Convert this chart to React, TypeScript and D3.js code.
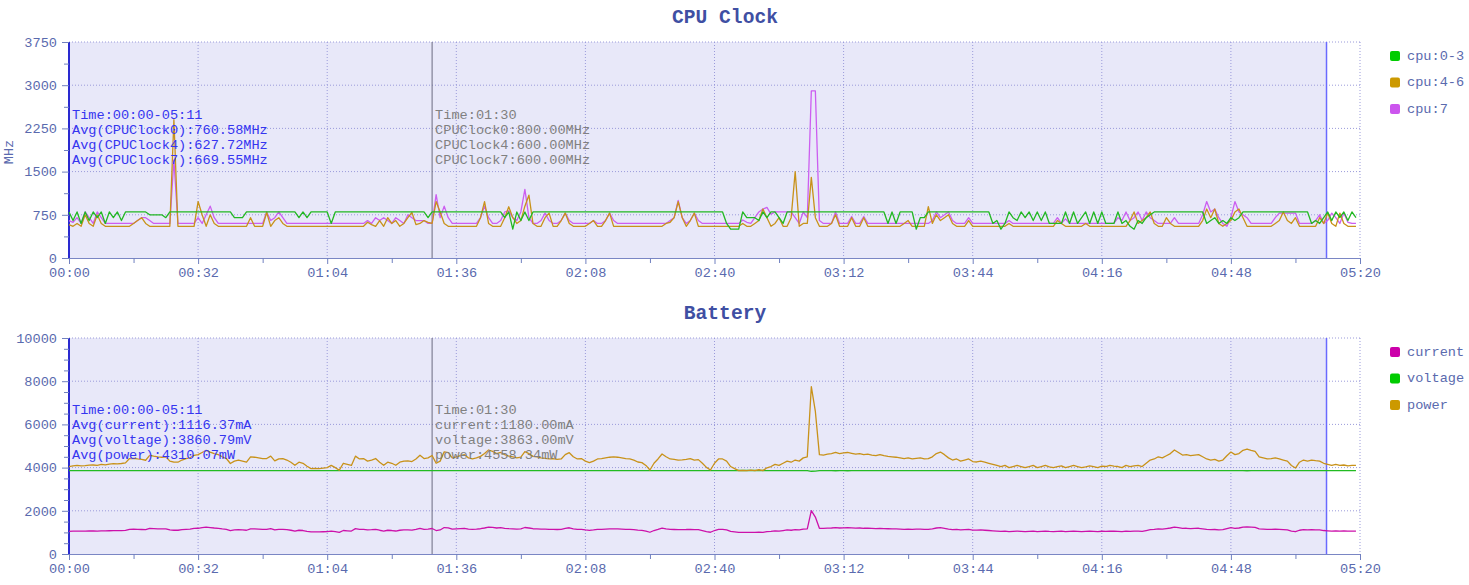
import React, { useEffect, useRef } from 'react';
import * as d3 from 'd3';

const FONT = "'Liberation Mono', 'DejaVu Sans Mono', monospace";

// one sample per second, t = 0 .. 319 s
const cpu0: number[] = [
  800, 650, 800, 600, 800, 650, 800, 700, 800, 600, 800, 700, 800, 650, 800, 800, 800, 800, 800, 800,
  750, 750, 750, 750, 700, 800, 800, 800, 800, 800, 800, 800, 800, 800, 800, 800, 800, 800, 800, 800,
  800, 700, 700, 700, 800, 800, 800, 800, 800, 800, 800, 800, 800, 800, 800, 800, 800, 700, 800, 700,
  800, 800, 800, 800, 800, 600, 800, 800, 800, 800, 800, 800, 800, 800, 800, 800, 800, 800, 800, 800,
  800, 800, 800, 800, 800, 800, 800, 800, 800, 700, 800, 800, 800, 800, 800, 800, 800, 800, 800, 800,
  800, 800, 800, 800, 800, 800, 800, 800, 700, 800, 500, 800, 650, 800, 650, 800, 800, 800, 800, 800,
  800, 800, 800, 800, 800, 800, 800, 800, 800, 800, 800, 800, 800, 800, 800, 800, 800, 800, 800, 800,
  800, 800, 800, 800, 800, 800, 800, 800, 800, 800, 800, 800, 800, 800, 800, 800, 800, 800, 800, 800,
  800, 800, 800, 600, 500, 500, 500, 800, 700, 700, 700, 650, 800, 700, 800, 800, 700, 600, 800, 800,
  800, 800, 800, 800, 800, 800, 800, 800, 800, 800, 800, 800, 800, 800, 800, 800, 800, 800, 800, 800,
  800, 800, 800, 600, 800, 600, 800, 800, 800, 800, 500, 700, 700, 800, 800, 800, 800, 800, 800, 800,
  800, 800, 800, 800, 800, 800, 800, 800, 800, 600, 650, 500, 600, 800, 700, 650, 800, 700, 800, 650,
  800, 650, 800, 600, 600, 600, 600, 800, 600, 800, 600, 700, 800, 600, 800, 600, 800, 600, 600, 600,
  800, 600, 650, 550, 500, 650, 600, 700, 750, 800, 800, 800, 800, 800, 800, 800, 800, 800, 800, 800,
  800, 800, 600, 650, 700, 600, 650, 600, 700, 650, 700, 800, 800, 800, 800, 800, 800, 800, 800, 800,
  800, 800, 800, 800, 800, 800, 800, 800, 600, 650, 600, 700, 800, 650, 800, 700, 800, 650, 800, 700,
];

const cpu4: number[] = [
  580, 550, 600, 550, 750, 600, 550, 750, 600, 550, 550, 550, 550, 550, 550, 550, 600, 650, 700, 600,
  550, 550, 550, 550, 550, 550, 2400, 550, 550, 550, 550, 550, 980, 750, 550, 750, 600, 550, 550, 550,
  550, 550, 550, 550, 550, 700, 550, 550, 550, 790, 550, 650, 700, 600, 550, 550, 550, 550, 550, 550,
  550, 550, 550, 550, 550, 550, 550, 550, 550, 550, 550, 550, 550, 550, 620, 580, 550, 650, 550, 700,
  600, 650, 550, 600, 700, 790, 580, 600, 650, 620, 600, 980, 800, 600, 550, 550, 550, 550, 550, 550,
  550, 550, 700, 980, 600, 550, 550, 550, 700, 890, 700, 600, 650, 900, 1090, 600, 550, 550, 700, 780,
  550, 550, 650, 780, 600, 550, 550, 550, 550, 600, 650, 550, 550, 650, 780, 550, 550, 550, 550, 550,
  550, 550, 550, 550, 550, 550, 550, 550, 600, 620, 700, 980, 700, 550, 650, 780, 550, 550, 550, 550,
  550, 550, 550, 550, 550, 550, 550, 600, 550, 550, 600, 650, 850, 700, 550, 600, 700, 550, 550, 700,
  1500, 550, 600, 600, 1400, 700, 550, 550, 550, 600, 750, 550, 550, 550, 700, 550, 550, 700, 550, 550,
  550, 550, 550, 550, 550, 550, 550, 600, 650, 550, 550, 550, 550, 890, 600, 750, 650, 700, 750, 600,
  550, 550, 550, 650, 550, 550, 550, 550, 550, 550, 550, 550, 550, 600, 550, 550, 550, 550, 550, 550,
  550, 550, 550, 550, 550, 650, 600, 550, 550, 550, 550, 550, 600, 550, 550, 550, 550, 550, 550, 550,
  550, 550, 550, 650, 800, 600, 650, 700, 800, 600, 550, 550, 700, 600, 550, 550, 550, 550, 550, 550,
  550, 650, 850, 700, 850, 600, 550, 600, 650, 800, 850, 700, 550, 550, 550, 550, 550, 550, 550, 600,
  650, 800, 650, 600, 700, 550, 550, 550, 550, 550, 700, 600, 780, 600, 550, 780, 600, 550, 550, 550,
];

const cpu7: number[] = [
  650, 620, 700, 600, 800, 700, 600, 800, 700, 600, 600, 600, 600, 600, 600, 600, 600, 650, 700, 700,
  650, 600, 600, 600, 600, 600, 1700, 600, 600, 600, 600, 600, 700, 600, 750, 900, 700, 600, 600, 600,
  600, 600, 600, 600, 600, 600, 600, 600, 600, 800, 650, 700, 800, 700, 600, 600, 600, 600, 600, 600,
  600, 600, 600, 600, 600, 600, 600, 600, 600, 600, 600, 600, 600, 600, 650, 600, 700, 650, 700, 650,
  600, 700, 650, 600, 750, 700, 650, 650, 650, 600, 600, 1100, 700, 900, 700, 600, 600, 600, 600, 600,
  600, 600, 700, 900, 700, 600, 600, 650, 800, 820, 700, 650, 800, 1190, 700, 600, 600, 650, 780, 650,
  600, 600, 650, 780, 650, 600, 600, 600, 600, 600, 650, 600, 600, 650, 780, 650, 600, 600, 600, 600,
  600, 600, 600, 600, 600, 600, 600, 600, 600, 650, 700, 1000, 700, 600, 650, 780, 650, 600, 600, 600,
  600, 600, 600, 600, 600, 600, 600, 660, 620, 600, 700, 800, 850, 880, 760, 800, 800, 800, 800, 800,
  700, 600, 800, 700, 2900, 2900, 650, 600, 600, 600, 800, 600, 600, 600, 720, 600, 600, 720, 600, 600,
  600, 600, 600, 600, 600, 600, 600, 600, 600, 600, 600, 600, 600, 600, 650, 800, 700, 750, 800, 650,
  600, 600, 600, 700, 600, 600, 600, 600, 600, 600, 600, 600, 600, 650, 600, 600, 600, 600, 600, 600,
  600, 600, 600, 600, 600, 700, 600, 680, 600, 600, 600, 600, 600, 600, 600, 600, 600, 600, 600, 600,
  700, 650, 800, 650, 700, 800, 650, 800, 700, 650, 600, 600, 600, 600, 700, 600, 600, 600, 600, 600,
  600, 750, 980, 800, 850, 700, 600, 550, 700, 980, 800, 750, 700, 600, 600, 600, 600, 600, 600, 700,
  780, 780, 780, 780, 780, 600, 600, 600, 600, 650, 750, 600, 650, 780, 700, 600, 780, 620, 600, 600,
];

const current: number[] = [
  1049, 1056, 1062, 1056, 1059, 1064, 1067, 1062, 1075, 1069, 1077, 1082, 1080, 1085, 1093, 1144, 1147, 1139, 1134, 1124,
  1183, 1173, 1165, 1160, 1165, 1113, 1100, 1100, 1126, 1144, 1152, 1183, 1191, 1217, 1243, 1222, 1204, 1191, 1165, 1144,
  1085, 1113, 1126, 1113, 1100, 1165, 1160, 1152, 1144, 1144, 1173, 1116, 1139, 1144, 1126, 1100, 1064, 1100, 1087, 1051,
  1023, 1025, 1023, 1031, 1036, 1062, 1036, 1005, 1087, 1075, 1062, 1173, 1139, 1144, 1113, 1126, 1144, 1100, 1064, 1100,
  1087, 1064, 1100, 1113, 1116, 1108, 1139, 1183, 1144, 1152, 1180, 1087, 1113, 1225, 1214, 1152, 1165, 1178, 1191, 1152,
  1139, 1152, 1170, 1204, 1247, 1230, 1204, 1217, 1191, 1173, 1165, 1152, 1160, 1227, 1204, 1170, 1165, 1152, 1147, 1139,
  1144, 1134, 1139, 1191, 1215, 1165, 1139, 1144, 1113, 1095, 1113, 1139, 1144, 1152, 1160, 1165, 1160, 1152, 1144, 1139,
  1126, 1103, 1095, 1062, 1007, 1087, 1139, 1199, 1165, 1139, 1134, 1126, 1129, 1134, 1144, 1126, 1132, 1087, 1039, 1007,
  1087, 1139, 1139, 1113, 1049, 1023, 999, 1002, 999, 1005, 999, 1010, 999, 1033, 1049, 1075, 1062, 1087, 1113, 1100,
  1126, 1113, 1152, 1165, 2007, 1709, 1191, 1186, 1196, 1204, 1217, 1204, 1212, 1217, 1207, 1196, 1204, 1191, 1196, 1186,
  1178, 1191, 1178, 1170, 1165, 1160, 1152, 1144, 1152, 1139, 1147, 1152, 1139, 1144, 1165, 1204, 1222, 1191, 1152, 1126,
  1139, 1113, 1126, 1139, 1108, 1103, 1113, 1100, 1087, 1075, 1062, 1049, 1062, 1036, 1049, 1062, 1049, 1036, 1049, 1062,
  1036, 1049, 1062, 1044, 1036, 1049, 1056, 1036, 1049, 1062, 1049, 1036, 1044, 1056, 1049, 1036, 1054, 1049, 1062, 1054,
  1049, 1036, 1062, 1049, 1056, 1062, 1049, 1087, 1126, 1139, 1165, 1152, 1178, 1204, 1247, 1217, 1186, 1191, 1178, 1186,
  1191, 1165, 1139, 1126, 1134, 1113, 1126, 1178, 1222, 1191, 1204, 1243, 1258, 1243, 1230, 1165, 1152, 1139, 1144, 1152,
  1139, 1126, 1113, 1062, 1031, 1100, 1126, 1113, 1126, 1119, 1113, 1087, 1075, 1062, 1075, 1062, 1067, 1056, 1062, 1062,
];

const voltage: number[] = [
  3862, 3862, 3861, 3861, 3860, 3860, 3861, 3860, 3860, 3859, 3860, 3860, 3861, 3860, 3859, 3858, 3858, 3859, 3859, 3860,
  3858, 3858, 3859, 3859, 3858, 3860, 3861, 3861, 3860, 3859, 3859, 3858, 3858, 3857, 3856, 3857, 3858, 3858, 3859, 3859,
  3861, 3860, 3859, 3860, 3860, 3859, 3859, 3859, 3859, 3859, 3858, 3860, 3859, 3859, 3860, 3860, 3862, 3860, 3861, 3862,
  3863, 3863, 3863, 3863, 3862, 3862, 3862, 3864, 3861, 3862, 3862, 3858, 3859, 3859, 3860, 3860, 3859, 3860, 3862, 3860,
  3861, 3862, 3860, 3860, 3860, 3860, 3859, 3858, 3859, 3859, 3863, 3862, 3861, 3857, 3858, 3859, 3859, 3858, 3858, 3859,
  3859, 3859, 3858, 3857, 3856, 3856, 3857, 3857, 3858, 3858, 3858, 3859, 3859, 3856, 3857, 3858, 3858, 3859, 3859, 3859,
  3859, 3859, 3859, 3858, 3857, 3858, 3859, 3859, 3860, 3861, 3860, 3859, 3859, 3859, 3858, 3858, 3858, 3859, 3859, 3859,
  3860, 3861, 3861, 3862, 3864, 3861, 3859, 3857, 3858, 3859, 3859, 3860, 3860, 3860, 3859, 3860, 3860, 3861, 3863, 3864,
  3861, 3859, 3859, 3860, 3863, 3864, 3865, 3865, 3865, 3865, 3865, 3864, 3865, 3864, 3863, 3863, 3862, 3862, 3861, 3861,
  3860, 3860, 3859, 3858, 3830, 3840, 3857, 3857, 3856, 3856, 3855, 3856, 3856, 3855, 3856, 3856, 3856, 3857, 3857, 3857,
  3857, 3857, 3857, 3858, 3858, 3858, 3859, 3859, 3859, 3859, 3859, 3859, 3860, 3859, 3858, 3857, 3856, 3857, 3859, 3860,
  3859, 3860, 3860, 3859, 3860, 3861, 3860, 3861, 3861, 3862, 3862, 3863, 3862, 3863, 3863, 3862, 3863, 3863, 3863, 3862,
  3863, 3863, 3862, 3863, 3863, 3863, 3862, 3863, 3863, 3862, 3863, 3863, 3863, 3862, 3863, 3863, 3862, 3863, 3862, 3863,
  3863, 3863, 3862, 3863, 3862, 3862, 3863, 3861, 3860, 3859, 3858, 3859, 3858, 3857, 3856, 3857, 3858, 3858, 3858, 3858,
  3858, 3859, 3860, 3860, 3860, 3861, 3860, 3858, 3857, 3858, 3857, 3856, 3855, 3856, 3857, 3858, 3859, 3859, 3859, 3859,
  3859, 3860, 3860, 3862, 3863, 3861, 3860, 3860, 3860, 3860, 3860, 3861, 3862, 3862, 3862, 3862, 3862, 3862, 3862, 3862,
];

const power: number[] = [
  4050, 4080, 4100, 4080, 4090, 4110, 4120, 4100, 4150, 4130, 4160, 4180, 4170, 4190, 4220, 4420, 4430, 4400, 4380, 4340,
  4570, 4530, 4500, 4480, 4500, 4300, 4250, 4250, 4350, 4420, 4450, 4570, 4600, 4700, 4800, 4720, 4650, 4600, 4500, 4420,
  4190, 4300, 4350, 4300, 4250, 4500, 4480, 4450, 4420, 4420, 4530, 4310, 4400, 4420, 4350, 4250, 4110, 4250, 4200, 4060,
  3950, 3960, 3950, 3980, 4000, 4100, 4000, 3880, 4200, 4150, 4100, 4530, 4400, 4420, 4300, 4350, 4420, 4250, 4110, 4250,
  4200, 4110, 4250, 4300, 4310, 4280, 4400, 4570, 4420, 4450, 4558, 4200, 4300, 4730, 4690, 4450, 4500, 4550, 4600, 4450,
  4400, 4450, 4520, 4650, 4815, 4750, 4650, 4700, 4600, 4530, 4500, 4450, 4480, 4738, 4650, 4520, 4500, 4450, 4430, 4400,
  4420, 4380, 4400, 4600, 4691, 4500, 4400, 4420, 4300, 4228, 4300, 4400, 4420, 4450, 4480, 4500, 4480, 4450, 4420, 4400,
  4350, 4260, 4230, 4100, 3889, 4200, 4400, 4630, 4500, 4400, 4380, 4350, 4360, 4380, 4420, 4350, 4370, 4200, 4012, 3889,
  4200, 4400, 4400, 4300, 4050, 3950, 3860, 3870, 3860, 3880, 3860, 3900, 3860, 3990, 4050, 4150, 4100, 4200, 4300, 4250,
  4350, 4300, 4450, 4500, 7750, 6600, 4600, 4580, 4620, 4650, 4700, 4650, 4680, 4700, 4660, 4620, 4650, 4600, 4620, 4580,
  4550, 4600, 4550, 4520, 4500, 4480, 4450, 4420, 4450, 4400, 4430, 4450, 4400, 4420, 4500, 4650, 4720, 4600, 4450, 4350,
  4400, 4300, 4350, 4400, 4280, 4260, 4300, 4250, 4200, 4150, 4100, 4050, 4100, 4000, 4050, 4100, 4050, 4000, 4050, 4100,
  4000, 4050, 4100, 4030, 4000, 4050, 4080, 4000, 4050, 4100, 4050, 4000, 4030, 4080, 4050, 4000, 4070, 4050, 4100, 4070,
  4050, 4000, 4100, 4050, 4080, 4100, 4050, 4200, 4350, 4400, 4500, 4450, 4550, 4650, 4815, 4700, 4580, 4600, 4550, 4580,
  4600, 4500, 4400, 4350, 4380, 4300, 4350, 4550, 4720, 4600, 4650, 4800, 4860, 4800, 4750, 4500, 4450, 4400, 4420, 4450,
  4400, 4350, 4300, 4100, 3980, 4250, 4350, 4300, 4350, 4320, 4300, 4200, 4150, 4100, 4150, 4100, 4120, 4080, 4100, 4100,
];

const xTicks = [0, 32, 64, 96, 128, 160, 192, 224, 256, 288, 320];
const xMinor = [16, 48, 80, 112, 144, 176, 208, 240, 272, 304];
const cpuTicks = [0, 750, 1500, 2250, 3000, 3750];
const cpuMinor = [375, 1125, 1875, 2625, 3375];
const batTicks = [0, 2000, 4000, 6000, 8000, 10000];
const batMinor = [500, 1000, 1500, 2500, 3000, 3500, 4500, 5000, 5500, 6500, 7000, 7500, 8500, 9000, 9500];

const cpuAvgText = ['Time:00:00-05:11', 'Avg(CPUClock0):760.58MHz', 'Avg(CPUClock4):627.72MHz', 'Avg(CPUClock7):669.55MHz'];
const cpuHoverText = ['Time:01:30', 'CPUClock0:800.00MHz', 'CPUClock4:600.00MHz', 'CPUClock7:600.00MHz'];
const batAvgText = ['Time:00:00-05:11', 'Avg(current):1116.37mA', 'Avg(voltage):3860.79mV', 'Avg(power):4310.07mW'];
const batHoverText = ['Time:01:30', 'current:1180.00mA', 'voltage:3863.00mV', 'power:4558.34mW'];

const HOVER_T = 90;
const RANGE_END_T = 311.7;

const X0 = 69;
const X1 = 1360;
const x = d3.scaleLinear().domain([0, 320]).range([X0, X1]);

const pad = (n: number) => String(n).padStart(2, '0');
const fmtTime = (s: number) => `${pad(Math.floor(s / 60))}:${pad(s % 60)}`;

const TICK_COLOR = '#5a6aae';
const GRID = '#9a9ada';

interface Series {
  name: string;
  values: number[];
  color: string;
  legend: string;
}

interface PanelProps {
  title: string;
  titleY: number;
  top: number;
  bottom: number;
  yMax: number;
  ticks: number[];
  minor: number[];
  series: Series[];
  drawOrder: number[];
  avgText: string[];
  hoverText: string[];
  textY: number;
  legendY: number;
  yLabel?: string;
}

const Panel = (p: PanelProps) => {
  const gx = useRef<SVGGElement>(null);
  const gy = useRef<SVGGElement>(null);
  const y = d3.scaleLinear().domain([0, p.yMax]).range([p.bottom, p.top]);

  useEffect(() => {
    const ax = d3.select(gx.current!);
    ax.selectAll('*').remove();
    ax.append('g').call(d3.axisBottom(x).tickValues(xMinor).tickSize(5).tickSizeOuter(0).tickFormat(() => ''));
    ax.append('g').call(d3.axisBottom(x).tickValues(xTicks).tickSize(6).tickPadding(3).tickSizeOuter(0).tickFormat(d => fmtTime(+d)));

    const ay = d3.select(gy.current!);
    ay.selectAll('*').remove();
    ay.append('g').call(d3.axisLeft(y).tickValues(p.minor).tickSize(5).tickSizeOuter(0).tickFormat(() => ''));
    ay.append('g').call(d3.axisLeft(y).tickValues(p.ticks).tickSize(7).tickPadding(5).tickSizeOuter(0).tickFormat(d => String(d)));

    [ax, ay].forEach(a => {
      a.selectAll('.tick line').attr('stroke', '#7080c0');
      a.selectAll('.domain').attr('stroke', 'none');
      a.selectAll('text')
        .attr('font-family', FONT)
        .attr('font-size', 13.6)
        .attr('fill', TICK_COLOR);
    });
  }, []);

  const line = d3
    .line<number>()
    .x((_, i) => x(i))
    .y(d => y(d));

  return (
    <g>
      <text x={725} y={p.titleY} textAnchor="middle" dominantBaseline="central" fontFamily={FONT}
        fontSize={19.6} fontWeight="bold" fill="#3f4fa3">{p.title}</text>

      <rect x={x(0)} y={p.top} width={x(RANGE_END_T) - x(0)} height={p.bottom - p.top} fill="#e8e8f9" />

      {p.ticks.slice(1).map(t => (
        <line key={'h' + t} x1={X0} x2={X1} y1={y(t)} y2={y(t)} stroke={GRID} strokeDasharray="1,2" />
      ))}
      {xTicks.slice(1).map(t => (
        <line key={'v' + t} x1={x(t)} x2={x(t)} y1={p.top} y2={p.bottom} stroke={GRID} strokeDasharray="1,2" />
      ))}

      <line x1={X0} x2={X1} y1={p.bottom + 0.5} y2={p.bottom + 0.5} stroke="#7a86c4" />
      <line x1={X0} x2={X0} y1={p.top} y2={p.bottom} stroke="#2a2ad0" strokeWidth={2} />

      <line x1={x(HOVER_T)} x2={x(HOVER_T)} y1={p.top} y2={p.bottom} stroke="#6a6a80" />
      <line x1={x(RANGE_END_T)} x2={x(RANGE_END_T)} y1={p.top} y2={p.bottom} stroke="#6a6aff" strokeWidth={1.5} />

      {p.drawOrder.map(k => p.series[k]).map(s => (
        <path key={s.name} d={line(s.values) ?? ''} fill="none" stroke={s.color} strokeWidth={1.3}
          strokeLinejoin="round" />
      ))}

      {p.avgText.map((t, i) => (
        <text key={'a' + i} x={72} y={p.textY + i * 15.3} dominantBaseline="central" fontFamily={FONT}
          fontSize={13.6} fill="#3535f0">{t}</text>
      ))}
      {p.hoverText.map((t, i) => (
        <text key={'o' + i} x={x(HOVER_T) + 3} y={p.textY + i * 15.3} dominantBaseline="central" fontFamily={FONT}
          fontSize={13.6} fill="#808080">{t}</text>
      ))}

      {p.series.map((s, i) => (
        <g key={'l' + s.name} transform={`translate(1390,${p.legendY + i * 26.5})`}>
          <rect x={0} y={-5} width={10} height={10} rx={2} fill={s.legend} />
          <text x={17} y={0} dominantBaseline="central" fontFamily={FONT} fontSize={13.6} fill={TICK_COLOR}>
            {s.name}
          </text>
        </g>
      ))}

      {p.yLabel && (
        <text transform={`translate(9,${(p.top + p.bottom) / 2 + 2}) rotate(-90)`} textAnchor="middle"
          dominantBaseline="central" fontFamily={FONT} fontSize={13.6} fill={TICK_COLOR}>{p.yLabel}</text>
      )}

      <g ref={gx} transform={`translate(0,${p.bottom})`} />
      <g ref={gy} transform={`translate(${X0},0)`} />
    </g>
  );
};

const cpuSeries: Series[] = [
  { name: 'cpu:0-3', values: cpu0, color: '#22b822', legend: '#00cc00' },
  { name: 'cpu:4-6', values: cpu4, color: '#c8921a', legend: '#cc9900' },
  { name: 'cpu:7', values: cpu7, color: '#cc5ef0', legend: '#cc55ee' },
];

const batSeries: Series[] = [
  { name: 'current', values: current, color: '#cc11aa', legend: '#cc00aa' },
  { name: 'voltage', values: voltage, color: '#22bb22', legend: '#00cc00' },
  { name: 'power', values: power, color: '#c8921a', legend: '#cc9900' },
];

export default function App() {
  return (
    <svg width={1469} height={585} style={{ position: 'absolute', left: 0, top: 0, background: '#fff' }}>
      <Panel title="CPU Clock" titleY={18} top={42} bottom={258} yMax={3750} ticks={cpuTicks} minor={cpuMinor}
        series={cpuSeries} drawOrder={[2, 1, 0]} avgText={cpuAvgText} hoverText={cpuHoverText} textY={115}
        legendY={56} yLabel="MHz" />
      <Panel title="Battery" titleY={314} top={338} bottom={554} yMax={10000} ticks={batTicks} minor={batMinor}
        series={batSeries} drawOrder={[0, 1, 2]} avgText={batAvgText} hoverText={batHoverText} textY={410}
        legendY={352} />
    </svg>
  );
}
